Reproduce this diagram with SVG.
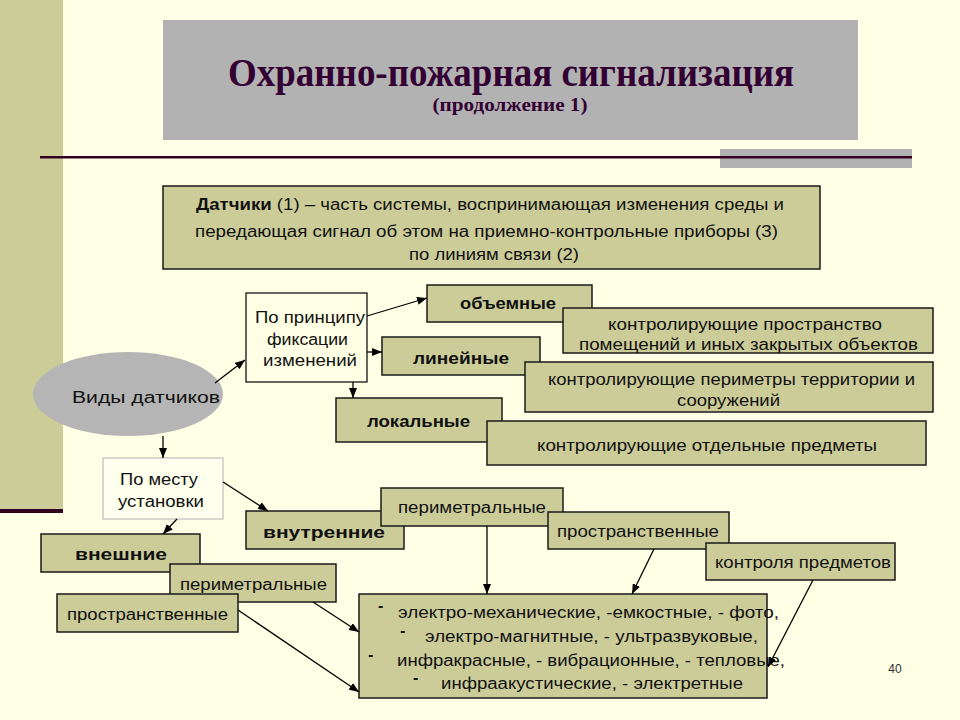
<svg xmlns="http://www.w3.org/2000/svg" width="960" height="720" viewBox="0 0 960 720">
<defs>
<style>
.bg{fill:#ffffe5}
.ol{fill:#cccc99;stroke:#1a1a1a;stroke-width:1.5}
.wb{fill:#ffffe5;stroke:#000;stroke-width:1.2}
.t{font-family:"Liberation Sans",Arial,sans-serif;font-size:16px;fill:#111}
.b{font-weight:bold}
.c{text-anchor:middle}
.ttl{font-family:"Liberation Serif","Times New Roman",serif;font-weight:bold;fill:#330033;text-anchor:middle}
.ln{stroke:#000;stroke-width:1.3;fill:none;marker-end:url(#ah)}
</style>
<marker id="ah" markerUnits="userSpaceOnUse" markerWidth="10" markerHeight="8" refX="10" refY="4" orient="auto">
<path d="M0,0 L10,4 L0,8 z" fill="#000"/>
</marker>
</defs>
<rect class="bg" x="0" y="0" width="960" height="720"/>
<g id="decor">
<rect x="0" y="0" width="63" height="512" fill="#cccc99"/>
<rect x="0" y="509" width="63" height="4" fill="#330022"/>
<rect x="720" y="149" width="192" height="19" fill="#b2b2b2"/>
<rect x="40" y="156" width="872" height="2.5" fill="#330022"/>
</g>
<g id="title">
<rect x="163" y="20" width="695" height="120" fill="#b2b2b2"/>
<text class="ttl" x="511" y="86" font-size="41" textLength="566" lengthAdjust="spacingAndGlyphs">Охранно-пожарная сигнализация</text>
<text class="ttl" x="510" y="111" font-size="19" textLength="155" lengthAdjust="spacingAndGlyphs">(продолжение 1)</text>
</g>
<g id="definition">
<rect class="ol" x="163" y="186" width="657" height="83"/>
<text class="t" x="196" y="210" textLength="588" lengthAdjust="spacingAndGlyphs"><tspan class="b">Датчики</tspan> (1) – часть системы, воспринимающая изменения среды и</text>
<text class="t" x="195" y="237" textLength="583" lengthAdjust="spacingAndGlyphs">передающая сигнал об этом на приемно-контрольные приборы (3)</text>
<text class="t" x="409" y="260" textLength="170" lengthAdjust="spacingAndGlyphs">по линиям связи (2)</text>
</g>
<g id="vidy">
<ellipse cx="128" cy="394" rx="95" ry="42" fill="#b5b5b5"/>
<text class="t" x="72" y="403" font-size="20" textLength="148" lengthAdjust="spacingAndGlyphs">Виды датчиков</text>
</g>
<g id="principle">
<rect class="wb" x="246" y="293" width="121" height="89"/>
<text class="t" x="255" y="323" font-size="18" textLength="110" lengthAdjust="spacingAndGlyphs">По принципу</text>
<text class="t" x="267" y="345" font-size="18" textLength="81" lengthAdjust="spacingAndGlyphs">фиксации</text>
<text class="t" x="263" y="366" font-size="18" textLength="94" lengthAdjust="spacingAndGlyphs">изменений</text>
</g>
<g id="obemnye">
<rect class="ol" x="427" y="285" width="165" height="37"/>
<text class="t b" x="460" y="309" textLength="96" lengthAdjust="spacingAndGlyphs">объемные</text>
</g>
<g id="obemnye-desc">
<rect class="ol" x="563" y="308" width="370" height="45"/>
<text class="t" x="608" y="330" font-size="17" textLength="274" lengthAdjust="spacingAndGlyphs">контролирующие пространство</text>
<text class="t" x="579" y="350" font-size="17" textLength="339" lengthAdjust="spacingAndGlyphs">помещений и иных закрытых объектов</text>
</g>
<g id="lineinye">
<rect class="ol" x="382" y="337" width="158" height="38"/>
<text class="t b" x="413" y="364" textLength="96" lengthAdjust="spacingAndGlyphs">линейные</text>
</g>
<g id="lineinye-desc">
<rect class="ol" x="525" y="362" width="408" height="50"/>
<text class="t" x="548" y="385" font-size="17" textLength="367" lengthAdjust="spacingAndGlyphs">контролирующие периметры территории и</text>
<text class="t" x="677" y="406" font-size="17" textLength="103" lengthAdjust="spacingAndGlyphs">сооружений</text>
</g>
<g id="lokalnye">
<rect class="ol" x="336" y="398" width="166" height="44"/>
<text class="t b" x="367" y="427" textLength="103" lengthAdjust="spacingAndGlyphs">локальные</text>
</g>
<g id="lokalnye-desc">
<rect class="ol" x="487" y="421" width="439" height="44"/>
<text class="t" x="537" y="451" font-size="17" textLength="340" lengthAdjust="spacingAndGlyphs">контролирующие отдельные предметы</text>
</g>
<g id="mesto">
<rect x="103" y="458" width="120" height="61" fill="#ffffee" stroke="#bdbdbd" stroke-width="1.2"/>
<text class="t" x="120" y="485" font-size="17" textLength="78" lengthAdjust="spacingAndGlyphs">По месту</text>
<text class="t" x="118" y="507" font-size="17" textLength="86" lengthAdjust="spacingAndGlyphs">установки</text>
</g>
<g id="vnutrennie">
<rect class="ol" x="246" y="511" width="158" height="38"/>
<text class="t b" x="263" y="538" font-size="18" textLength="122" lengthAdjust="spacingAndGlyphs">внутренние</text>
</g>
<g id="vneshnie">
<rect class="ol" x="41" y="534" width="159" height="38"/>
<text class="t b" x="75" y="560" font-size="17" textLength="92" lengthAdjust="spacingAndGlyphs">внешние</text>
</g>
<g id="perim-left">
<rect class="ol" x="170" y="564" width="166" height="38"/>
<text class="t" x="180" y="590" font-size="17" textLength="147" lengthAdjust="spacingAndGlyphs">периметральные</text>
</g>
<g id="prostr-left">
<rect class="ol" x="57" y="594" width="181" height="38"/>
<text class="t" x="67" y="620" font-size="17" textLength="161" lengthAdjust="spacingAndGlyphs">пространственные</text>
</g>
<g id="perim-mid">
<rect class="ol" x="381" y="488" width="182" height="38"/>
<text class="t" x="398" y="513" font-size="17" textLength="148" lengthAdjust="spacingAndGlyphs">периметральные</text>
</g>
<g id="prostr-mid">
<rect class="ol" x="548" y="512" width="181" height="37"/>
<text class="t" x="557" y="537" font-size="17" textLength="162" lengthAdjust="spacingAndGlyphs">пространственные</text>
</g>
<g id="kontrol">
<rect class="ol" x="706" y="543" width="189" height="37"/>
<text class="t" x="715" y="568" font-size="17" textLength="176" lengthAdjust="spacingAndGlyphs">контроля предметов</text>
</g>
<g id="types">
<rect class="ol" x="359" y="594" width="408" height="104"/>
<text class="t b" x="378" y="611">-</text>
<text class="t" x="398" y="618" font-size="17" textLength="381" lengthAdjust="spacingAndGlyphs">электро-механические, -емкостные, - фото,</text>
<text class="t b" x="400" y="636">-</text>
<text class="t" x="425" y="642" font-size="17" textLength="333" lengthAdjust="spacingAndGlyphs">электро-магнитные, - ультразвуковые,</text>
<text class="t b" x="368" y="660">-</text>
<text class="t" x="397" y="666" font-size="17" textLength="388" lengthAdjust="spacingAndGlyphs">инфракрасные, - вибрационные, - тепловые,</text>
<text class="t b" x="413" y="683">-</text>
<text class="t" x="441" y="689" font-size="17" textLength="302" lengthAdjust="spacingAndGlyphs">инфраакустические, - электретные</text>
</g>
<g id="connectors">
<line class="ln" x1="215" y1="383" x2="245" y2="360"/>
<line class="ln" x1="367" y1="316" x2="427" y2="298"/>
<line class="ln" x1="367" y1="352" x2="382" y2="352"/>
<line class="ln" x1="353" y1="382" x2="353" y2="398"/>
<line class="ln" x1="163" y1="436" x2="163" y2="458"/>
<line class="ln" x1="223" y1="482" x2="268" y2="511"/>
<line class="ln" x1="177" y1="519" x2="163" y2="534"/>
<line class="ln" x1="313" y1="602" x2="359" y2="632"/>
<line class="ln" x1="238" y1="610" x2="359" y2="692"/>
<line class="ln" x1="487" y1="526" x2="487" y2="594"/>
<line class="ln" x1="654" y1="549" x2="632" y2="594"/>
<line class="ln" x1="813" y1="580" x2="768" y2="667"/>
</g>
<text x="895" y="673" font-family="Liberation Sans,Arial,sans-serif" font-size="12" fill="#333" text-anchor="middle">40</text>
</svg>
